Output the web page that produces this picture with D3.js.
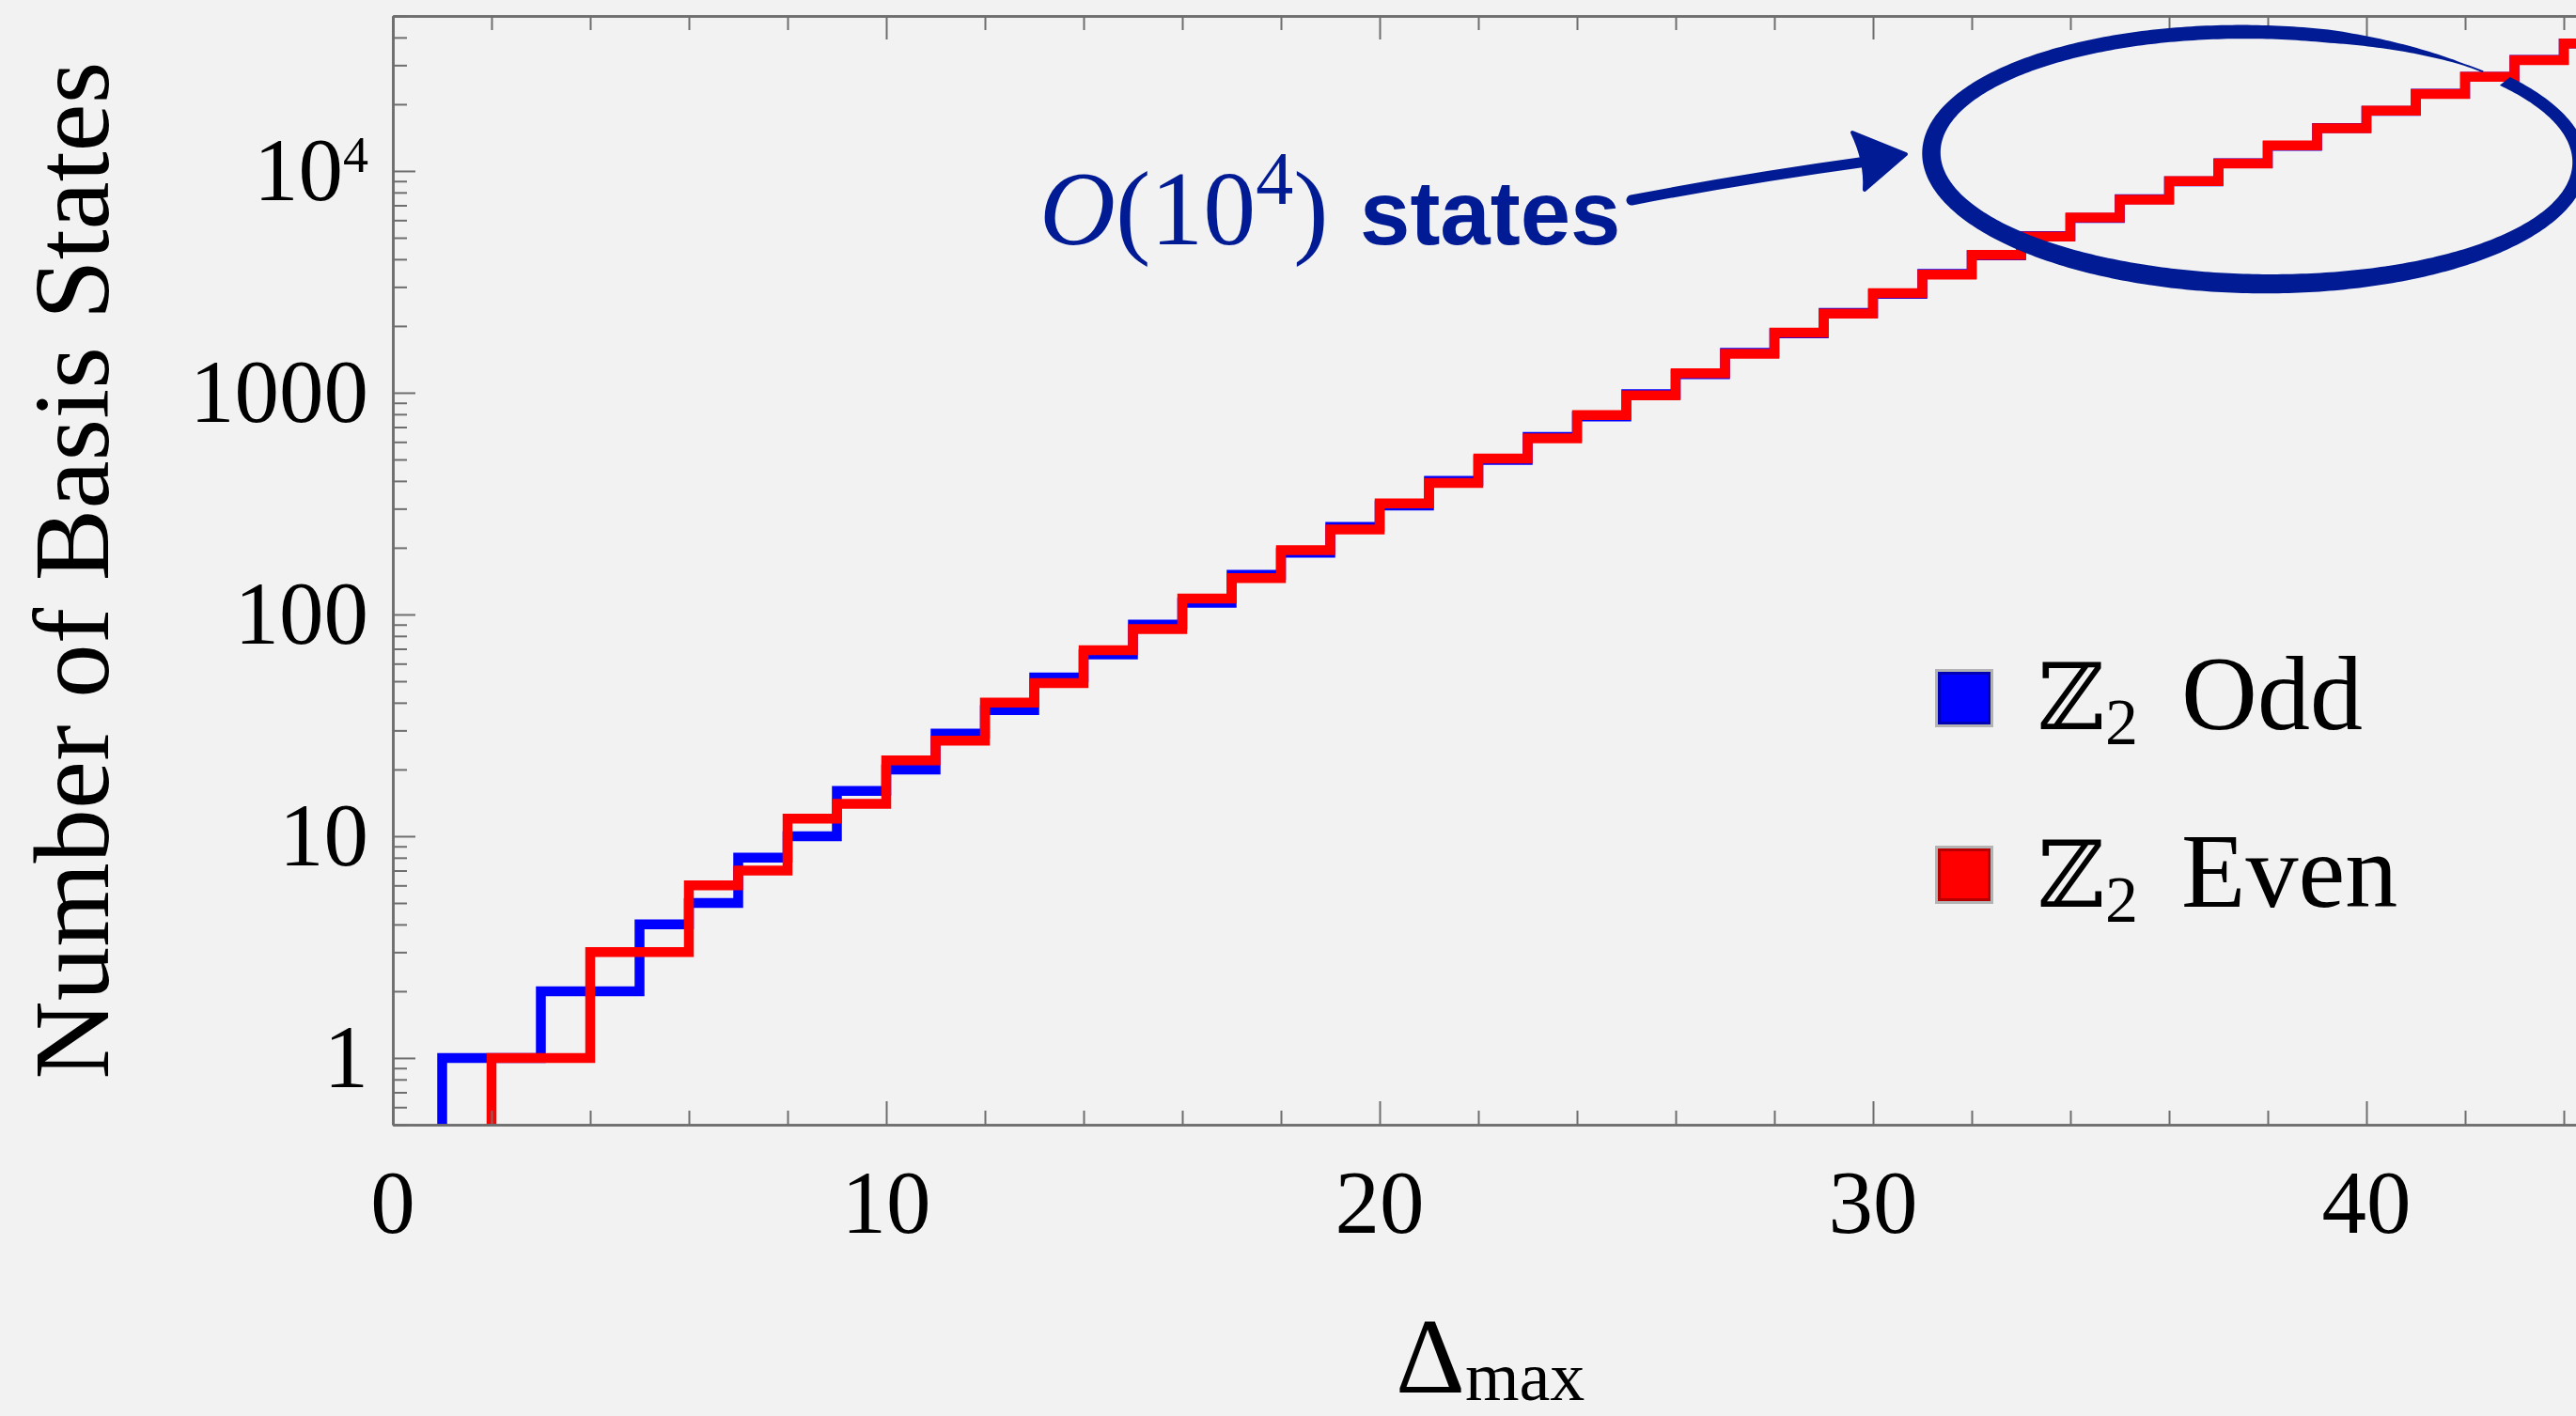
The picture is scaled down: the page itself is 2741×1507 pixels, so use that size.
<!DOCTYPE html>
<html>
<head>
<meta charset="utf-8">
<script src="https://cdn.jsdelivr.net/npm/d3@7"></script>
<style>
  html, body { margin: 0; padding: 0; background: #f2f2f2; }
  svg { display: block; }
</style>
</head>
<body>
<svg id="chart" width="2741" height="1507"></svg>
<script>
// Number of basis states per maximal scaling dimension, split by Z2 sector
const deltaMax = [1, 2, 3, 4, 5, 6, 7, 8, 9, 10, 11, 12, 13, 14, 15, 16, 17, 18, 19, 20,
  21, 22, 23, 24, 25, 26, 27, 28, 29, 30, 31, 32, 33, 34, 35, 36, 37, 38, 39, 40,
  41, 42, 43, 44, 45];
const oddCounts = [1, 1, 2, 2, 4, 5, 8, 10, 16, 20, 29, 37, 52, 66, 90, 113, 151, 190, 248, 310,
  400, 497, 632, 782, 985, 1212, 1512, 1851, 2291, 2793, 3431, 4163, 5084, 6142, 7456, 8972,
  10836, 12989, 15613, 18646, 22316, 26561, 31659, 37556, 44601];
const evenCounts = [0, 1, 1, 3, 3, 6, 7, 12, 14, 22, 27, 40, 49, 69, 86, 118, 146, 195, 242, 317,
  392, 505, 623, 793, 973, 1224, 1498, 1867, 2274, 2811, 3411, 4186, 5059, 6168, 7427, 9005,
  10801, 13026, 15572, 18692, 22267, 26613, 31602, 37619, 44533];

const seriesNames = ["Odd", "Even"];
const seriesColors = ["#0000ff", "#ff0000"];
const seriesEdge = ["#0000b4", "#b80000"];

const xTickLabels = [0, 10, 20, 30, 40];
const yTickValues = [1, 10, 100, 1000, 10000];
const yTickLabels = ["1", "10", "100", "1000", "10^4"];

const W = 2741, H = 1507;
const plot = { left: 418, top: 17, bottom: 1197 };

const svg = d3.select("#chart");
svg.append("rect").attr("width", W).attr("height", H).attr("fill", "#f2f2f2");

const x = d3.scaleLinear().domain([0, 45]).range([plot.left, plot.left + 45 * 52.5]);
const y = d3.scaleLog().domain([0.5, 50000]).range([plot.bottom, plot.top]);

const axisColor = "#6e6e6e";
const serif = "'Liberation Serif', 'Times New Roman', serif";

// clip for the step curves
svg.append("clipPath").attr("id", "plotClip")
  .append("rect")
  .attr("x", plot.left).attr("y", plot.top)
  .attr("width", W - plot.left + 50).attr("height", plot.bottom - plot.top);

// step curves, odd sector underneath the even sector
const stepLine = d3.line()
  .x(d => x(d[0]))
  .y(d => y(d[1]))
  .curve(d3.curveStepAfter);

function stepPoints(counts) {
  const pts = [];
  deltaMax.forEach((d, i) => { if (counts[i] > 0) pts.push([d, counts[i]]); });
  const first = pts[0][0];
  pts.unshift([first, 0.3]);
  const last = pts[pts.length - 1];
  pts.push([last[0] + 1, last[1]]);
  return pts;
}

const curves = svg.append("g").attr("clip-path", "url(#plotClip)");
[oddCounts, evenCounts].forEach((counts, k) => {
  curves.append("path")
    .attr("d", stepLine(stepPoints(counts)))
    .attr("fill", "none")
    .attr("stroke", seriesColors[k])
    .attr("stroke-width", 10.5)
    .attr("stroke-linejoin", "miter")
    .attr("stroke-linecap", "butt");
});

// frame axes with inward ticks
const xMinor = d3.range(0, 46, 2).filter(v => v % 10 !== 0);
const yAll = y.ticks();
const yMinor = yAll.filter(v => !yTickValues.includes(v));

function styleAxis(g) {
  g.select(".domain").attr("stroke", axisColor).attr("stroke-width", 2.6);
  g.selectAll(".tick line").attr("stroke", axisColor).attr("stroke-width", 2);
  g.selectAll(".tick text").remove();
}

[[d3.axisBottom, plot.bottom], [d3.axisTop, plot.top]].forEach(([mk, ty]) => {
  svg.append("g").attr("transform", `translate(0,${ty})`)
    .call(mk(x).tickValues(xMinor).tickSize(-15).tickSizeOuter(0).tickFormat(""))
    .call(styleAxis);
  svg.append("g").attr("transform", `translate(0,${ty})`)
    .call(mk(x).tickValues(xTickLabels).tickSize(-25).tickSizeOuter(0).tickFormat(""))
    .call(styleAxis);
});

svg.append("g").attr("transform", `translate(${plot.left},0)`)
  .call(d3.axisLeft(y).tickValues(yMinor).tickSize(-15).tickSizeOuter(0).tickFormat(""))
  .call(styleAxis);
svg.append("g").attr("transform", `translate(${plot.left},0)`)
  .call(d3.axisLeft(y).tickValues(yTickValues).tickSize(-24).tickSizeOuter(0).tickFormat(""))
  .call(styleAxis);

// tick labels
svg.append("g").selectAll("text").data(xTickLabels).join("text")
  .attr("x", d => x(d)).attr("y", 1312)
  .attr("text-anchor", "middle")
  .attr("font-family", serif).attr("font-size", 95).attr("fill", "#000")
  .text(d => d);

const yLab = svg.append("g");
yTickValues.forEach((v, i) => {
  const lab = yTickLabels[i];
  const t = yLab.append("text")
    .attr("x", 392).attr("y", y(v) + 31)
    .attr("text-anchor", "end")
    .attr("font-family", serif).attr("font-size", 95).attr("fill", "#000");
  if (lab.includes("^")) {
    const [base, exp] = lab.split("^");
    t.append("tspan").text(base);
    t.append("tspan").attr("font-size", 54).attr("dy", -30).text(exp);
  } else {
    t.text(lab);
  }
});

// axis titles
const xt = svg.append("text")
  .attr("x", 1485).attr("y", 1482)
  .attr("font-family", serif).attr("font-size", 115).attr("fill", "#000");
xt.append("tspan").text("Δ");
xt.append("tspan").attr("font-size", 74).attr("dy", 8).text("max");

svg.append("text")
  .attr("transform", "translate(115,607) rotate(-90)")
  .attr("text-anchor", "middle")
  .attr("font-family", serif).attr("font-size", 115).attr("fill", "#000")
  .text("Number of Basis States");

// legend
const legendRows = [{ sy: 712, base: 776 }, { sy: 900, base: 965 }];
seriesNames.forEach((name, k) => {
  const r = legendRows[k];
  const g = svg.append("g");
  g.append("rect").attr("x", 2059).attr("y", r.sy).attr("width", 62).attr("height", 62).attr("fill", "#b3b3b3");
  g.append("rect").attr("x", 2062).attr("y", r.sy + 3).attr("width", 56).attr("height", 56).attr("fill", seriesEdge[k]);
  g.append("rect").attr("x", 2065).attr("y", r.sy + 6).attr("width", 50).attr("height", 50).attr("fill", seriesColors[k]);
  const t = g.append("text").attr("y", r.base).attr("font-family", serif).attr("font-size", 112).attr("fill", "#000");
  t.append("tspan").attr("x", 2168).attr("font-family", "'DejaVu Serif', 'DejaVu Sans', serif").attr("font-size", 98).text("ℤ");
  t.append("tspan").attr("x", 2240).attr("y", r.base + 16).attr("font-size", 70).text("2");
  t.append("tspan").attr("x", 2321).attr("y", r.base).text(name);
});

// annotation
const navy = "#001b94";
const ann = svg.append("text")
  .attr("x", 1106).attr("y", 260)
  .attr("font-family", serif).attr("font-size", 112).attr("fill", navy);
ann.append("tspan").attr("font-style", "italic").text("O");
ann.append("tspan").text("(10");
ann.append("tspan").attr("font-size", 80).attr("dy", -43).text("4");
ann.append("tspan").attr("dy", 43).text(")");

svg.append("text")
  .attr("x", 1447).attr("y", 260)
  .attr("font-family", "'Liberation Sans', Arial, sans-serif")
  .attr("font-weight", "bold").attr("font-size", 96).attr("fill", navy)
  .text("states");

// arrow pointing to the circled region
svg.append("path")
  .attr("d", "M1736,213 Q1855,190 1986,172")
  .attr("fill", "none").attr("stroke", navy)
  .attr("stroke-width", 11).attr("stroke-linecap", "round");
svg.append("path")
  .attr("d", "M1971,141 L2028,164 L1984,202 Q1986,172 1971,141 Z")
  .attr("fill", navy).attr("stroke", navy)
  .attr("stroke-width", 4).attr("stroke-linejoin", "round");

// hand-drawn ring around the high-dimension region
const ring = { cx: 2400, cy: 168, rx: 345, ry: 134, rot: 0.018 };
const tStart = -0.70, tEnd = 2 * Math.PI - 0.80;
function ringWidth(t) {
  let w = 17.5 + 3 * Math.sin(t) - 2 * Math.cos(t);
  const taper = 0.55;
  if (t > tEnd - taper) w *= Math.max(0.15, (tEnd - t) / taper);
  return w;
}
function ringPoint(t, off) {
  const ex = (ring.rx + off) * Math.cos(t), ey = (ring.ry + off) * Math.sin(t);
  const c = Math.cos(ring.rot), s = Math.sin(ring.rot);
  return [ring.cx + ex * c - ey * s, ring.cy + ex * s + ey * c];
}
const ts = d3.range(tStart, tEnd + 1e-9, (tEnd - tStart) / 400);
const outer = ts.map(t => ringPoint(t, ringWidth(t) / 2));
const inner = ts.map(t => ringPoint(t, -ringWidth(t) / 2)).reverse();
svg.append("path")
  .attr("d", d3.line()(outer.concat(inner)) + "Z")
  .attr("fill", navy);
</script>
</body>
</html>
